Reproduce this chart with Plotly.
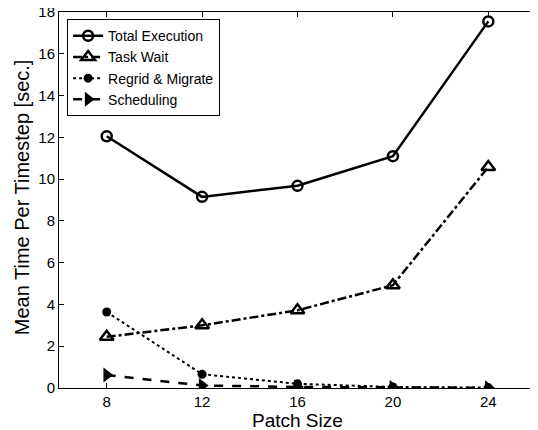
import plotly.graph_objects as go

patch_size = [8, 12, 16, 20, 24]
total_execution = [12.05, 9.15, 9.68, 11.1, 17.55]
task_wait = [2.45, 3.0, 3.72, 4.92, 10.58]
regrid_migrate = [3.64, 0.66, 0.2, 0.05, 0.02]
scheduling = [0.62, 0.12, 0.05, 0.02, 0.01]

x_ticks = [8, 12, 16, 20, 24]
y_ticks = [0, 2, 4, 6, 8, 10, 12, 14, 16, 18]

font_family = "Liberation Sans, Arial, Helvetica, sans-serif"

fig = go.Figure()
fig.add_trace(go.Scatter(
    x=patch_size, y=total_execution, name="Total Execution", mode="lines+markers",
    line=dict(color="black", width=2.5, dash="solid"),
    marker=dict(symbol="circle-open", size=10, color="black", line=dict(width=2.5))))
fig.add_trace(go.Scatter(
    x=patch_size, y=task_wait, name="Task Wait", mode="lines+markers",
    line=dict(color="black", width=2.5, dash="dashdot"),
    marker=dict(symbol="triangle-up-open", size=12, color="black", line=dict(width=2.5))))
fig.add_trace(go.Scatter(
    x=patch_size, y=regrid_migrate, name="Regrid & Migrate", mode="lines+markers",
    line=dict(color="black", width=2, dash="dot"),
    marker=dict(symbol="circle", size=9, color="black")))
fig.add_trace(go.Scatter(
    x=patch_size, y=scheduling, name="Scheduling", mode="lines+markers",
    line=dict(color="black", width=2.5, dash="dash"),
    marker=dict(symbol="triangle-right", size=13, color="black")))

fig.update_layout(
    width=530, height=422,
    margin=dict(l=51, r=2, t=4, b=42, autoexpand=False),
    paper_bgcolor="white", plot_bgcolor="white",
    font=dict(family=font_family, size=15, color="black"),
    showlegend=True,
    legend=dict(x=0.017, y=0.981, xanchor="left", yanchor="top",
                bgcolor="white", bordercolor="black", borderwidth=1,
                font=dict(size=14, family=font_family), tracegroupgap=0,
                itemwidth=30),
    xaxis=dict(range=[6, 26], tickvals=x_ticks, ticktext=[str(v) for v in x_ticks],
               ticks="inside", ticklen=5, tickcolor="black", mirror="ticks",
               showline=True, linecolor="black", linewidth=1, showgrid=False,
               zeroline=False, tickfont=dict(size=15), automargin=False,
               ticklabeloverflow="allow"),
    yaxis=dict(range=[0, 18], tickvals=y_ticks, ticktext=[str(v) for v in y_ticks],
               ticks="inside", ticklen=5, tickcolor="black", mirror="ticks",
               showline=True, linecolor="black", linewidth=1, showgrid=False,
               zeroline=False, tickfont=dict(size=15), automargin=False,
               ticklabeloverflow="allow"),
    annotations=[
        dict(text="Patch Size", xref="paper", yref="paper", x=0.5, y=-0.087,
             xanchor="center", yanchor="middle", showarrow=False,
             font=dict(size=19, family=font_family)),
        dict(text="Mean Time Per Timestep [sec.]", xref="paper", yref="paper",
             x=-0.077, y=0.508, xanchor="center", yanchor="middle", textangle=-90,
             showarrow=False, font=dict(size=20, family=font_family)),
    ],
)

fig.write_html("out.html")
